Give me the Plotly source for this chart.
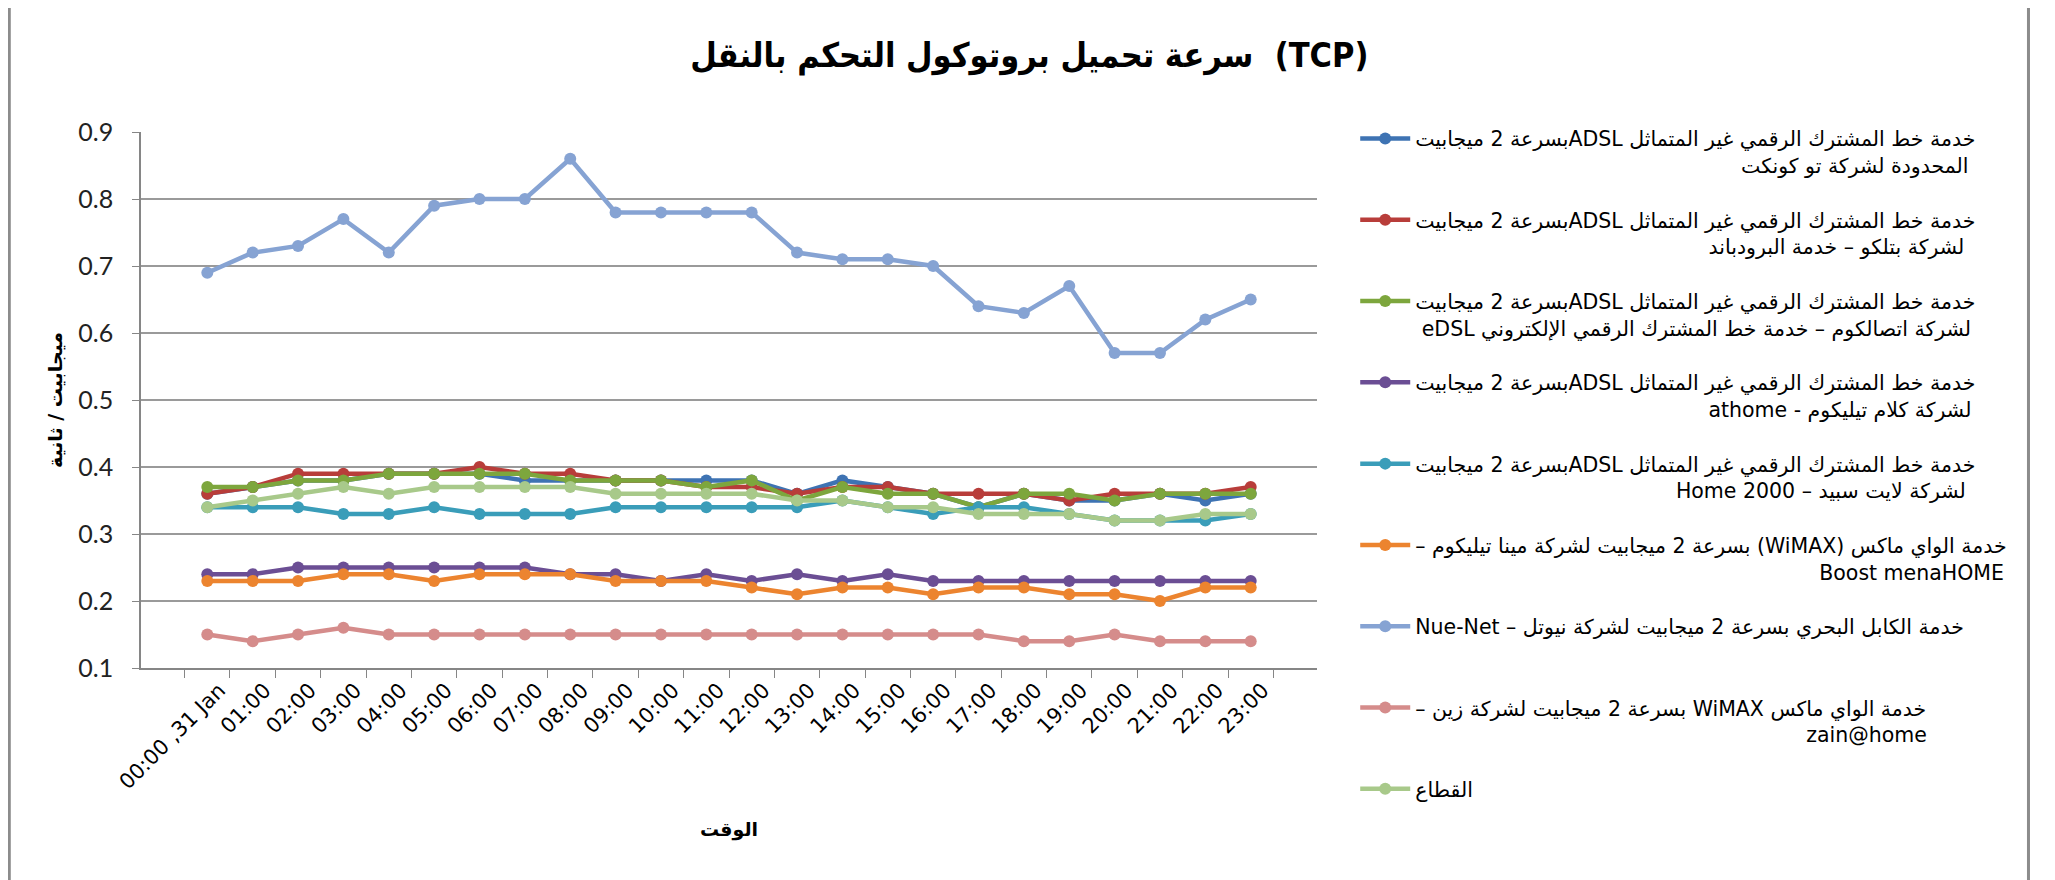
import plotly.graph_objects as go

hours = ["00:00 ,31 Jan"] + [f"{h:02d}:00" for h in range(1, 24)]

adsl_2connect = [0.36, 0.37, 0.38, 0.38, 0.39, 0.39, 0.39, 0.38, 0.38, 0.38, 0.38, 0.38,
                 0.38, 0.36, 0.38, 0.37, 0.36, 0.34, 0.36, 0.35, 0.35, 0.36, 0.35, 0.36]
adsl_batelco = [0.36, 0.37, 0.39, 0.39, 0.39, 0.39, 0.40, 0.39, 0.39, 0.38, 0.38, 0.37,
                0.37, 0.36, 0.37, 0.37, 0.36, 0.36, 0.36, 0.35, 0.36, 0.36, 0.36, 0.37]
adsl_etisalcom = [0.37, 0.37, 0.38, 0.38, 0.39, 0.39, 0.39, 0.39, 0.38, 0.38, 0.38, 0.37,
                  0.38, 0.35, 0.37, 0.36, 0.36, 0.34, 0.36, 0.36, 0.35, 0.36, 0.36, 0.36]
adsl_kalaam = [0.24, 0.24, 0.25, 0.25, 0.25, 0.25, 0.25, 0.25, 0.24, 0.24, 0.23, 0.24,
               0.23, 0.24, 0.23, 0.24, 0.23, 0.23, 0.23, 0.23, 0.23, 0.23, 0.23, 0.23]
adsl_lightspeed = [0.34, 0.34, 0.34, 0.33, 0.33, 0.34, 0.33, 0.33, 0.33, 0.34, 0.34, 0.34,
                   0.34, 0.34, 0.35, 0.34, 0.33, 0.34, 0.34, 0.33, 0.32, 0.32, 0.32, 0.33]
wimax_mena = [0.23, 0.23, 0.23, 0.24, 0.24, 0.23, 0.24, 0.24, 0.24, 0.23, 0.23, 0.23,
              0.22, 0.21, 0.22, 0.22, 0.21, 0.22, 0.22, 0.21, 0.21, 0.20, 0.22, 0.22]
cable_nuetel = [0.69, 0.72, 0.73, 0.77, 0.72, 0.79, 0.80, 0.80, 0.86, 0.78, 0.78, 0.78,
                0.78, 0.72, 0.71, 0.71, 0.70, 0.64, 0.63, 0.67, 0.57, 0.57, 0.62, 0.65]
wimax_zain = [0.15, 0.14, 0.15, 0.16, 0.15, 0.15, 0.15, 0.15, 0.15, 0.15, 0.15, 0.15,
              0.15, 0.15, 0.15, 0.15, 0.15, 0.15, 0.14, 0.14, 0.15, 0.14, 0.14, 0.14]
sector = [0.34, 0.35, 0.36, 0.37, 0.36, 0.37, 0.37, 0.37, 0.37, 0.36, 0.36, 0.36,
          0.36, 0.35, 0.35, 0.34, 0.34, 0.33, 0.33, 0.33, 0.32, 0.32, 0.33, 0.33]

RLE, PDF, NBSP = "\u202B", "\u202C", "\u00a0"
def rtl(line1, line2=None, pad=0):
    s = RLE + line1 + PDF
    if line2 is not None:
        s += "<br>" + NBSP * pad + RLE + line2 + PDF
    return s

adsl_line = "خدمة خط المشترك الرقمي غير المتماثل ADSLبسرعة 2 ميجابيت"
names = [
    rtl(adsl_line, "المحدودة لشركة تو كونكت", 50),
    rtl(adsl_line, "لشركة بتلكو – خدمة البرودباند", 45),
    rtl(adsl_line, "لشركة اتصالكوم – خدمة خط المشترك الرقمي الإلكتروني eDSL", 1),
    rtl(adsl_line, "لشركة كلام تيليكوم - athome", 45),
    rtl(adsl_line, "لشركة لايت سبيد – Home 2000", 40),
    rtl("خدمة الواي ماكس (WiMAX) بسرعة 2 ميجابيت لشركة مينا تيليكوم –", "Boost menaHOME", 62),
    rtl("خدمة الكابل البحري بسرعة 2 ميجابيت لشركة نيوتل – Nue-Net") + "<br>" + NBSP,
    rtl("خدمة الواي ماكس WiMAX بسرعة 2 ميجابيت لشركة زين –", "zain@home", 60),
    rtl("القطاع"),
]
series = [adsl_2connect, adsl_batelco, adsl_etisalcom, adsl_kalaam, adsl_lightspeed,
          wimax_mena, cable_nuetel, wimax_zain, sector]
colors = ["#3E73B3", "#B83D3A", "#7DA63D", "#6B4E94", "#3A9DB9",
          "#EC842F", "#86A3D3", "#D58C8B", "#A8C98A"]

fig = go.Figure()
for i, (nm, ys, c) in enumerate(zip(names, series, colors)):
    fig.add_trace(go.Scatter(
        x=hours, y=ys, name=nm, mode="lines+markers",
        line=dict(color=c, width=4.5),
        marker=dict(symbol="circle", size=12, color=c),
        legendgroup=f"g{i}",
    ))

AR = "DejaVu Sans"
fig.update_layout(
    width=2055, height=880,
    paper_bgcolor="white", plot_bgcolor="white",
    margin=dict(l=133, r=746, t=124, b=220, autoexpand=False),
    title=dict(text="<b>سرعة تحميل بروتوكول التحكم بالنقل  (TCP)</b>",
               x=0.497, xanchor="center", y=0.947, yanchor="middle",
               font=dict(family="DejaVu Sans Condensed, DejaVu Sans", size=34, color="black")),
    showlegend=True,
    legend=dict(x=1.0325, xanchor="left", y=1.025, yanchor="top",
                font=dict(family=AR, size=20.5, color="black"),
                tracegroupgap=25, valign="top", itemwidth=50,
                maxheight=820, bgcolor="rgba(0,0,0,0)"),
    xaxis=dict(
        type="category", tickangle=-45, automargin=False,
        tickfont=dict(family="DejaVu Sans", size=21, color="black"),
        ticklabelshift=12,
        showgrid=False, showline=True, linecolor="#868686", linewidth=1.5,
        ticks="outside", tickson="boundaries", ticklen=8, tickcolor="#868686",
        title=dict(text="<b>الوقت</b>", font=dict(family=AR, size=19, color="black"),
                   standoff=30),
    ),
    yaxis=dict(
        range=[0.1, 0.9], dtick=0.1, tickformat=".1f", automargin=False,
        tickfont=dict(family="Lato", size=25, color="#222"),
        ticklabelstandoff=14,
        showgrid=True, gridcolor="#9A9A9A", gridwidth=1.5,
        showline=True, linecolor="#868686", linewidth=1.5,
        ticks="outside", ticklen=7, tickcolor="#868686", zeroline=False,
        title=dict(text="<b>ميجابيت / ثانية</b>", font=dict(family=AR, size=19, color="black"),
                   standoff=11),
    ),
    shapes=[dict(type="rect", xref="paper", yref="paper",
                 x0=-0.112, x1=1.605, y0=-0.42, y1=1.2388,
                 line=dict(color="#8C8C8C", width=3), fillcolor="rgba(0,0,0,0)")],
)

fig.write_html("out.html")
